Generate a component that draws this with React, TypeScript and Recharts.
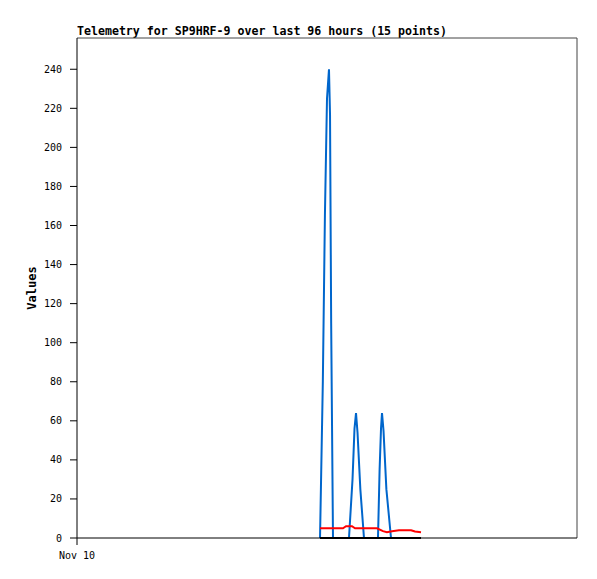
import React from 'react'
import { LineChart, Line, XAxis, YAxis, ReferenceLine } from 'recharts'

// ─── Colours ────────────────────────────────────────────────────────────────
const BLUE = '#0066cc'
const RED = '#ff0000'
const BLACK = '#000000'
const FRAME = '#444444'
const FONT = '"DejaVu Sans Mono", "Liberation Mono", monospace'

// x = hours since Nov 10 00:00 (96 hour window)
const blueHours = [46.66, 47.2, 47.6, 48.0, 48.38, 48.58, 48.8, 49.15, 52.22, 52.9, 53.28, 53.57, 53.86, 54.4, 55.1, 57.79, 58.1, 58.37, 58.56, 58.85, 59.4, 60.29]
const blueValues = [0, 80, 165, 225, 240, 217, 110, 0, 0, 30, 56, 64, 54, 25, 0, 0, 35, 56, 64, 55, 25, 0]

const redHours = [46.66, 51.07, 51.65, 52.8, 53.38, 57.6, 58.75, 59.5, 60.48, 61.82, 64.13, 64.9, 66.05]
const redValues = [5, 5, 6, 6, 5, 5, 3.5, 3, 3.5, 4, 4, 3.3, 3]

const blackHours = [46.66, 66.05]
const blackValues = [0, 0]

const yTicks = [0, 20, 40, 60, 80, 100, 120, 140, 160, 180, 200, 220, 240]
const xTicks = [0]
const xTickLabels = ['Nov 10']

const toRows = (hs: number[], vs: number[]) => hs.map((h, i) => ({ h, v: vs[i] }))
const blueData = toRows(blueHours, blueValues)
const redData = toRows(redHours, redValues)
const blackData = toRows(blackHours, blackValues)

function YLabel({ viewBox }: { viewBox?: { x: number; y: number; width: number; height: number } }) {
  if (!viewBox) return null
  const x = viewBox.x + 15
  const y = viewBox.y + viewBox.height / 2
  return (
    <text x={x} y={y} transform={`rotate(-90 ${x} ${y})`} textAnchor="middle" dominantBaseline="central"
      fontFamily={FONT} fontSize={12} fontWeight="bold" fill={BLACK}>
      Values
    </text>
  )
}

export default function App() {
  return (
    <div style={{ position: 'absolute', left: 0, top: 0, width: 597, height: 579, background: '#fff' }}>
      <div style={{ position: 'absolute', left: 77, top: 25, fontFamily: FONT, fontSize: 11.6, fontWeight: 'bold', lineHeight: '12px', whiteSpace: 'nowrap' }}>
        Telemetry for SP9HRF-9 over last 96 hours (15 points)
      </div>
      <LineChart width={597} height={579} margin={{ top: 38, right: 20, bottom: 21, left: 17 }}>
        <XAxis type="number" dataKey="h" domain={[0, 96]} ticks={xTicks} allowDuplicatedCategory={false}
          tickFormatter={(v: number) => xTickLabels[xTicks.indexOf(v)] ?? ''}
          height={20} tickSize={7} tickMargin={7} stroke={BLACK}
          tick={{ fill: BLACK, fontSize: 10, fontFamily: FONT }} />
        <YAxis type="number" domain={[0, 256]} ticks={yTicks} width={60} tickSize={7} tickMargin={8}
          stroke={BLACK} tick={{ fill: BLACK, fontSize: 10, fontFamily: FONT }}
          label={<YLabel />} />
        <ReferenceLine y={256} stroke={FRAME} strokeWidth={1} />
        <ReferenceLine x={96} stroke={FRAME} strokeWidth={1} />
        <Line data={blueData} dataKey="v" type="linear" stroke={BLUE} strokeWidth={2} dot={false} isAnimationActive={false} />
        <Line data={redData} dataKey="v" type="linear" stroke={RED} strokeWidth={2} dot={false} isAnimationActive={false} />
        <Line data={blackData} dataKey="v" type="linear" stroke={BLACK} strokeWidth={2} dot={false} isAnimationActive={false} />
      </LineChart>
    </div>
  )
}
